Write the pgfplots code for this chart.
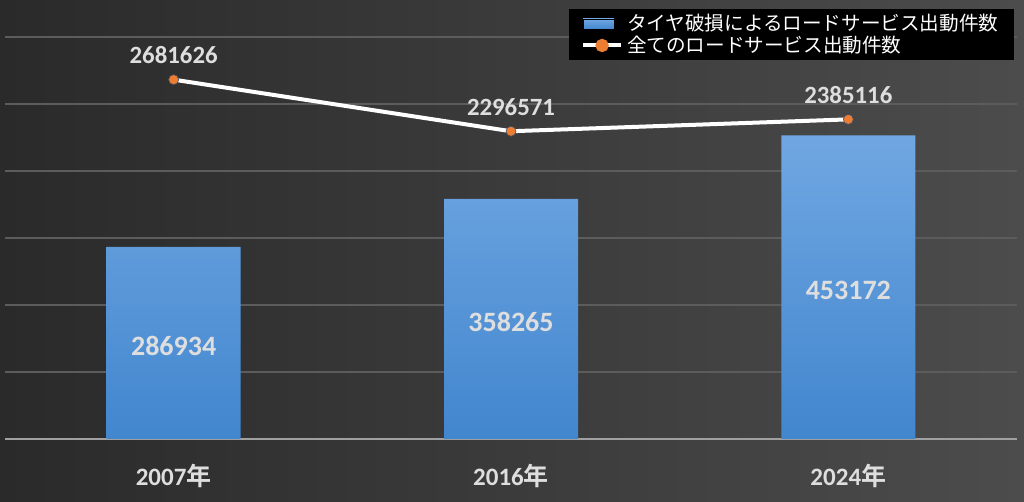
\documentclass[border=0pt]{standalone}
\usepackage{pgfplots}
\pgfplotsset{compat=1.18}
\usepackage{pgfplotstable}
\usepackage{fontspec}
\setmainfont{Carlito}
\newfontfamily\jp{Noto Sans CJK JP}[BoldFont={Noto Sans CJK JP Bold}]

\definecolor{bgdark}{RGB}{42,42,42}
\definecolor{bglight}{RGB}{76,76,76}
\definecolor{gridc}{RGB}{92,92,92}
\definecolor{basec}{RGB}{160,160,160}
\definecolor{bartop}{RGB}{112,167,226}
\definecolor{barbot}{RGB}{66,134,206}
\definecolor{labc}{RGB}{222,222,222}
\definecolor{mkorange}{RGB}{237,125,49}

\pgfplotstableread{
x bars line
0 286934 2681626
1 358265 2296571
2 453172 2385116
}\data

\begin{document}
\begin{tikzpicture}
\fill[left color=bgdark, right color=bglight] (0pt,0pt) rectangle (512pt,251pt);

% bars, primary scale
\begin{axis}[
  at={(2.5pt,31.5pt)}, anchor=south west,
  scale only axis, width=506pt, height=201pt,
  xmin=-0.5, xmax=2.5, ymin=0, ymax=600000,
  axis x line=bottom, axis y line=left,
  x axis line style={draw=basec, line width=0.6pt, -},
  y axis line style={draw=none},
  xtick={0,1,2},
  xticklabels={2007{\jp\bfseries 年},2016{\jp\bfseries 年},2024{\jp\bfseries 年}},
  xticklabel style={font=\fontsize{12.5}{14}\selectfont\bfseries, text=labc, yshift=-9pt},
  ytick={100000,200000,...,600000}, yticklabels={}, scaled y ticks=false,
  ymajorgrids, grid style={draw=gridc, line width=0.6pt},
  major tick length=0pt,
  clip=false,
]
\addplot[ybar, bar width=67pt, draw=none, top color=bartop, bottom color=barbot]
  table[x=x, y=bars]{\data};
\addplot[draw=none, no markers, point meta=explicit symbolic,
  nodes near coords, nodes near coords align=center,
  every node near coord/.append style={anchor=center, yshift=-1.5pt, text=labc,
    font=\fontsize{14}{16}\selectfont\bfseries}]
  table[x=x, y expr=\thisrow{bars}/2, meta=bars]{\data};
\end{axis}

% line, secondary scale
\begin{axis}[
  at={(2.5pt,31.5pt)}, anchor=south west,
  scale only axis, width=506pt, height=201pt,
  xmin=-0.5, xmax=2.5, ymin=0, ymax=3000000,
  axis lines=none, xtick=\empty, ytick=\empty,
  clip=false,
  legend style={at={(0.557,1.07)}, anchor=north west, fill=black, draw=none,
    text=white, font=\jp\fontsize{9.8}{11}\selectfont,
    inner xsep=6pt, inner ysep=0.5pt, row sep=-3pt},
  legend cell align=left,
]
\addlegendimage{legend image code/.code={\fill[top color=bartop, bottom color=barbot] (0pt,-2.5pt) rectangle (15.5pt,2.5pt);}}
\addlegendentry{タイヤ破損によるロードサービス出動件数}
\addplot[white, line width=2pt, mark=*, mark size=2.5pt,
  mark options={fill=mkorange, draw={rgb,255:red,60;green,80;blue,110}, line width=0.3pt},
  point meta=explicit symbolic, nodes near coords,
  every node near coord/.append style={anchor=south, yshift=4.5pt, text=labc,
    font=\fontsize{12.4}{14}\selectfont\bfseries},
  legend image code/.code={\draw[white, line width=2pt] (0pt,0pt) -- (19pt,0pt);
    \fill[mkorange] (9.5pt,0pt) circle (2.3pt);}]
  table[x=x, y=line, meta=line]{\data};
\addlegendentry{全てのロードサービス出動件数}
\end{axis}
\pgfresetboundingbox
\useasboundingbox (0pt,0pt) rectangle (512pt,251pt);
\end{tikzpicture}
\end{document}
